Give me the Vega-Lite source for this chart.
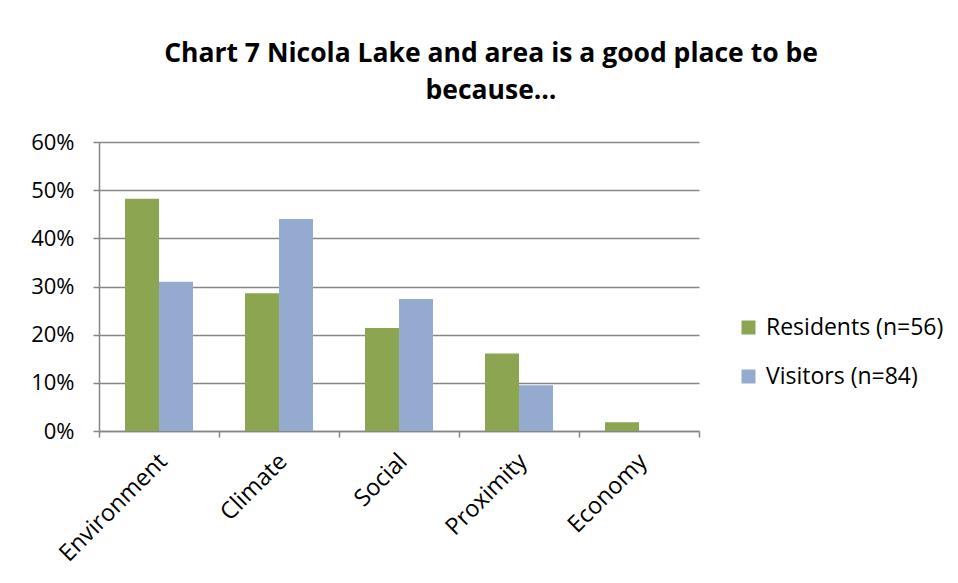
{
  "$schema": "https://vega.github.io/schema/vega-lite/v6.json",
  "autosize": {"type": "none"},
  "padding": {"left": 99, "top": 142, "right": 259, "bottom": 152},
  "width": 600,
  "height": 289,
  "background": "white",
  "title": {
    "text": ["Chart 7 Nicola Lake and area is a good place to be", "because…"],
    "anchor": "middle",
    "dx": 92,
    "font": "Open Sans",
    "fontSize": 26.5,
    "fontWeight": "bold",
    "lineHeight": 37,
    "offset": 27,
    "color": "black"
  },
  "data": {
    "values": [
      {"category": "Environment", "group": "Residents (n=56)", "value": 0.482},
      {"category": "Environment", "group": "Visitors (n=84)", "value": 0.310},
      {"category": "Climate", "group": "Residents (n=56)", "value": 0.286},
      {"category": "Climate", "group": "Visitors (n=84)", "value": 0.440},
      {"category": "Social", "group": "Residents (n=56)", "value": 0.214},
      {"category": "Social", "group": "Visitors (n=84)", "value": 0.274},
      {"category": "Proximity", "group": "Residents (n=56)", "value": 0.161},
      {"category": "Proximity", "group": "Visitors (n=84)", "value": 0.095},
      {"category": "Economy", "group": "Residents (n=56)", "value": 0.018},
      {"category": "Economy", "group": "Visitors (n=84)", "value": 0.0}
    ]
  },
  "mark": {"type": "bar"},
  "encoding": {
    "x": {
      "field": "category",
      "type": "nominal",
      "sort": ["Environment", "Climate", "Social", "Proximity", "Economy"],
      "scale": {"paddingInner": 0, "paddingOuter": 0},
      "axis": {
        "title": null,
        "labelAngle": -45,
        "labelFont": "Open Sans",
        "labelFontSize": 23.5,
        "labelColor": "black",
        "labelPadding": 12,
        "labelOffset": -4,
        "bandPosition": 1,
        "tickExtra": true,
        "ticks": true,
        "tickSize": 6,
        "tickColor": "#868686",
        "tickWidth": 1.5,
        "domainColor": "#868686",
        "domainWidth": 1.5,
        "grid": false
      }
    },
    "xOffset": {
      "field": "group",
      "type": "nominal",
      "scale": {"paddingInner": 0, "paddingOuter": 0.765}
    },
    "y": {
      "field": "value",
      "type": "quantitative",
      "scale": {"domain": [0, 0.6], "nice": false},
      "axis": {
        "title": null,
        "format": ".0%",
        "values": [0, 0.1, 0.2, 0.3, 0.4, 0.5, 0.6],
        "labelFont": "Open Sans",
        "labelFontSize": 22,
        "labelColor": "black",
        "labelPadding": 19,
        "tickSize": 6,
        "tickColor": "#868686",
        "tickWidth": 1.5,
        "domainColor": "#868686",
        "domainWidth": 1.5,
        "grid": true,
        "gridColor": "#878787",
        "gridWidth": 1.5
      }
    },
    "color": {
      "field": "group",
      "type": "nominal",
      "scale": {"domain": ["Residents (n=56)", "Visitors (n=84)"], "range": ["#8BA550", "#95AACF"]},
      "legend": {
        "title": null,
        "orient": "none",
        "legendX": 638,
        "legendY": 174,
        "symbolType": "square",
        "symbolSize": 196,
        "symbolStrokeWidth": 0,
        "labelFont": "Open Sans",
        "labelFontSize": 23,
        "labelColor": "black",
        "labelOffset": 6,
        "labelLimit": 300,
        "rowPadding": 25
      }
    }
  },
  "config": {"view": {"stroke": null}}
}
